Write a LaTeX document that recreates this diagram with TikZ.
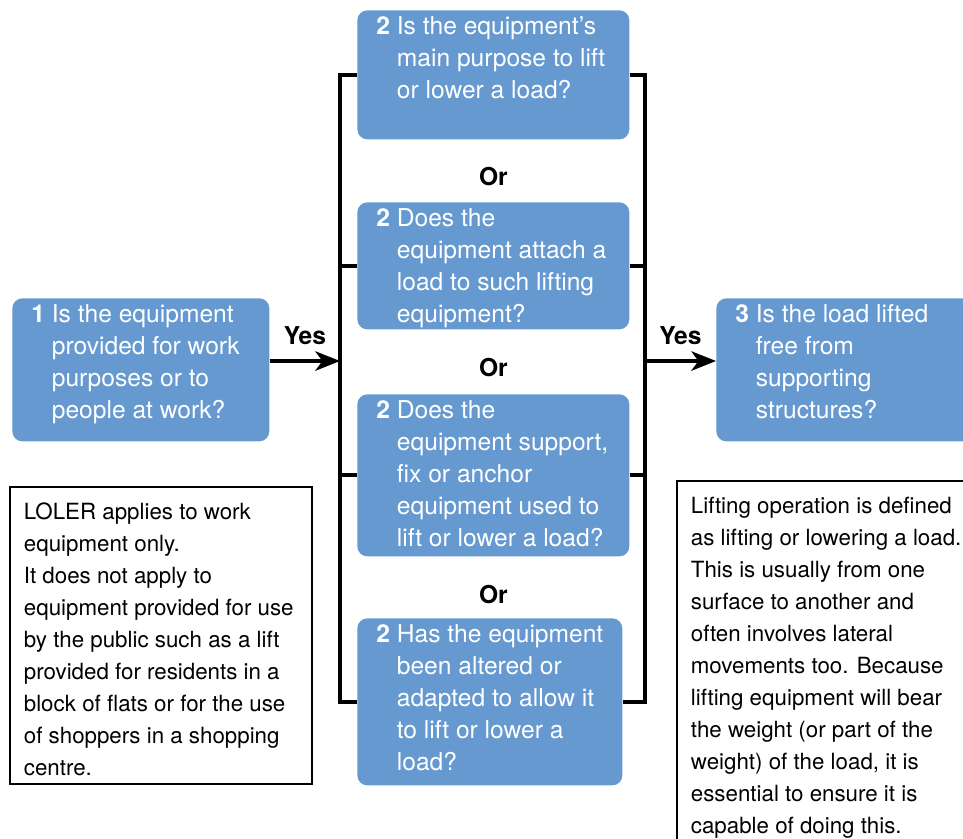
\documentclass[tikz,border=0pt]{standalone}
\usepackage{fontspec}
\setmainfont{TeX Gyre Heros}
\usepackage{tikz}
\usetikzlibrary{arrows.meta,positioning}
\usepackage{xcolor}
\definecolor{qblue}{RGB}{101,153,208}
\newcommand{\qtext}[4]{\parbox[c][#1][t]{#2}{\fontsize{14}{18.2}\selectfont\textbf{#3} \begin{tabular}[t]{@{}l@{}}#4\end{tabular}}}
\newcommand{\ntext}[3]{\parbox[c][#1][t]{#2}{\fontsize{12.7}{18.2}\selectfont\begin{tabular}[t]{@{}l@{}}#3\end{tabular}}}
\tikzset{
  qbox/.style={fill=qblue, text=white, rounded corners=0.2cm, anchor=north west, inner xsep=0.38cm, inner ysep=0.04cm},
  notebox/.style={draw=black, line width=1pt, anchor=north west, inner xsep=0.28cm, inner ysep=0.2cm},
  bar/.style={line width=2.3pt},
  yesarrow/.style={line width=2.3pt, -{Stealth[length=14pt,width=11pt,inset=4pt]}},
  lbl/.style={font=\fontsize{14}{16}\selectfont\bfseries}
}

\begin{document}
\begin{tikzpicture}
    \useasboundingbox (0,0) rectangle (19.26,-16.76);
    \clip (0,0) rectangle (19.26,-16.76);

    % questions
    \node[qbox] (q1) at (0.24,-5.96) {\qtext{2.78cm}{4.38cm}{1}{Is the equipment\\provided for work\\purposes or to\\people at work?}};
    \node[qbox] (q2a) at (7.14,-0.2) {\qtext{2.5cm}{4.68cm}{2}{Is the equipment’s\\main purpose to lift\\or lower a load?}};
    \node[qbox] (q2b) at (7.14,-4.04) {\qtext{2.46cm}{4.68cm}{2}{Does the\\equipment attach a\\load to such lifting\\equipment?}};
    \node[qbox] (q2c) at (7.14,-7.88) {\qtext{3.16cm}{4.68cm}{2}{Does the\\equipment support,\\fix or anchor\\equipment used to\\lift or lower a load?}};
    \node[qbox] (q2d) at (7.14,-12.36) {\qtext{3.26cm}{4.54cm}{2}{Has the equipment\\been altered or\\adapted to allow it\\to lift or lower a\\load?}};
    \node[qbox] (q3) at (14.32,-5.96) {\qtext{2.78cm}{4.8cm}{3}{Is the load lifted\\free from\\supporting\\structures?}};

    \node[lbl, below=0.43cm of q2a] (or1) {Or};
    \node[lbl, below=0.44cm of q2b] (or2) {Or};
    \node[lbl, below=0.44cm of q2c] (or3) {Or};

    % notes
    \node[notebox] (nleft) at (0.18,-9.72) {\ntext{5.54cm}{5.48cm}{LOLER applies to work\\equipment only.\\It does not apply to\\equipment provided for use\\by the public such as a lift\\provided for residents in a\\block of flats or for the use\\of shoppers in a shopping\\centre.}};
    \node[notebox] (nright) at (13.52,-9.6) {\ntext{7.6cm}{5.44cm}{Lifting operation is defined\\as lifting or lowering a load.\\This is usually from one\\surface to another and\\often involves lateral\\movements too. Because\\lifting equipment will bear\\the weight (or part of the\\weight) of the load, it is\\essential to ensure it is\\capable of doing this.}};

    % brackets
    \coordinate (lx) at (6.8,-7.22);
    \coordinate (rx) at (12.9,-7.22);
    \draw[bar] (q2a.west) -| (lx) |- (q2d.west);
    \draw[bar] (q2b.west) -- (q2b.west -| lx);
    \draw[bar] (q2c.west) -- (q2c.west -| lx);
    \draw[bar] (q2a.east) -| (rx) |- (q2d.east);
    \draw[bar] (q2b.east) -- (q2b.east -| rx);
    \draw[bar] (q2c.east) -- (q2c.east -| rx);

    \draw[yesarrow] (q1.east |- lx) -- node[lbl, midway, above=0.16cm] {Yes} (lx);
    \draw[yesarrow] (rx) -- node[lbl, midway, above=0.16cm] {Yes} (q3.west |- rx);
\end{tikzpicture}
\end{document}
